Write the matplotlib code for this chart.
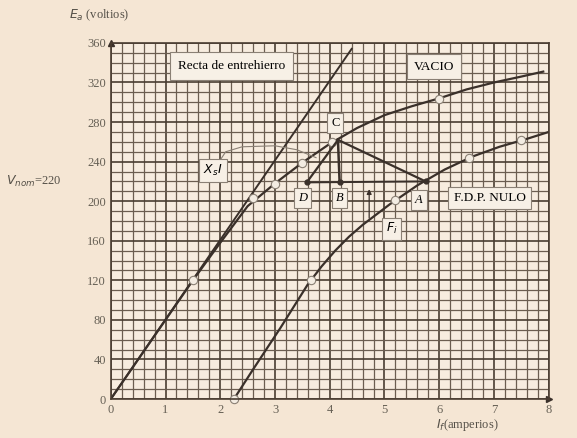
import matplotlib
matplotlib.use("Agg")
import matplotlib.pyplot as plt
import numpy as np

plt.rcParams['font.family'] = ['Liberation Serif', 'DejaVu Serif']

# open circuit curve (VACIO)
occ_i = [0, 1.0, 1.5, 2.0, 2.5, 3.0, 3.5, 4.0, 4.5, 5.0, 5.5, 6.0, 6.5, 7.0, 7.5, 7.9]
occ_e = [0, 80, 120, 158, 195, 218, 239, 258, 274, 287, 296, 304, 313, 320, 326, 331]
occ_marks_i = [1.5, 2.6, 3.0, 3.5, 4.05, 6.0]
occ_marks_e = [120, 203, 217, 239, 260, 303]

# zero power factor curve (F.D.P. NULO)
zpf_i = [2.25, 2.6, 3.1, 3.6, 3.85, 4.1, 4.35, 4.6, 5.1, 5.6, 6.1, 6.6, 7.1, 7.6, 8.0]
zpf_e = [0, 30, 72, 116, 134, 150, 164, 176, 197, 216, 232, 245, 255, 263, 270]
zpf_marks_i = [2.25, 3.65, 5.2, 6.55, 7.5]
zpf_marks_e = [0, 120, 201, 244, 262]

# air gap line
gap_i = [0, 4.4]
gap_e = [0, 354]

# Potier triangle points
pt_C = (4.15, 262)
pt_D = (3.58, 219)
pt_B = (4.18, 219)
pt_A = (5.75, 220)

# leader line of the X_s I label
lead_i = [1.98, 2.1, 2.4, 3.0, 3.4, 3.75]
lead_e = [240, 250, 255, 256, 252, 244]

fig = plt.figure(figsize=(5.77, 4.38), dpi=100)
fig.patch.set_facecolor('#f5e6d4')
ax = fig.add_axes([0.192, 0.089, 0.759, 0.813])
ax.set_facecolor('#f7ecdf')

ax.set_xlim(0, 8)
ax.set_ylim(0, 360)
ax.set_xticks(np.arange(0, 9, 1))
ax.set_yticks(np.arange(0, 361, 40))
ax.set_xticks(np.arange(0, 8.01, 0.2), minor=True)
ax.set_yticks(np.arange(0, 361, 10), minor=True)
ax.grid(which='major', color='#4a3d32', linewidth=1.2)
ax.grid(which='minor', color='#6b5d50', linewidth=0.9)
ax.tick_params(which='both', length=0, colors='#666055', labelsize=9)
for s in ax.spines.values():
    s.set_color('#4a3d32')
    s.set_linewidth(1.2)

lc = '#3a302a'
ax.plot(gap_i, gap_e, color=lc, lw=1.4)
ax.plot(occ_i, occ_e, color=lc, lw=1.6)
ax.plot(zpf_i, zpf_e, color=lc, lw=1.6)
ax.plot(occ_marks_i, occ_marks_e, 'o', ms=6, mfc='#f3ece2', mec='#8a8075', mew=0.8)
ax.plot(zpf_marks_i, zpf_marks_e, 'o', ms=6, mfc='#f3ece2', mec='#8a8075', mew=0.8, clip_on=False)
ax.plot([0], [360], '^', ms=5, color=lc, clip_on=False)
ax.plot([8], [0], '>', ms=5, color=lc, clip_on=False)

# Potier triangle
ax.plot([pt_D[0], pt_C[0]], [pt_D[1], pt_C[1]], color=lc, lw=1.6)
ax.plot([pt_C[0], pt_B[0]], [pt_C[1], pt_B[1]], color=lc, lw=1.8)
ax.plot([pt_C[0], pt_A[0]], [pt_C[1], pt_A[1]], color=lc, lw=1.6)
ax.plot([pt_D[0], pt_A[0]], [pt_D[1], pt_A[1]], color=lc, lw=1.4)
ax.plot([pt_D[0], pt_B[0], pt_A[0]], [pt_D[1], pt_B[1], pt_A[1]], 'o', ms=3.5, color=lc)
ax.annotate('', xy=(4.72, 215), xytext=(4.72, 180),
            arrowprops=dict(arrowstyle='-|>', color=lc, lw=0.9, mutation_scale=7))
ax.plot(lead_i, lead_e, color='#8a8075', lw=0.8)

bfc = '#f7f0e6'
bec = '#8a8075'
box = dict(boxstyle='square,pad=0.3', fc=bfc, ec=bec, lw=0.8)
ax.text(2.2, 337, 'Recta de entrehierro', fontsize=9.5, ha='center', va='center',
        bbox=dict(boxstyle='square,pad=0.6', fc=bfc, ec=bec, lw=0.8))
ax.text(5.9, 336, 'VACIO', fontsize=9.5, ha='center', va='center',
        bbox=dict(boxstyle='square,pad=0.5', fc=bfc, ec=bec, lw=0.8))
ax.text(4.1, 279, 'C', fontsize=9, ha='center', va='center', bbox=box)
ax.text(3.5, 203, 'D', fontsize=9, ha='center', va='center', style='italic', bbox=box)
ax.text(4.18, 203, 'B', fontsize=9, ha='center', va='center', style='italic', bbox=box)
ax.text(5.63, 201, 'A', fontsize=9, ha='center', va='center', style='italic', bbox=box)
ax.text(6.92, 203, 'F.D.P. NULO', fontsize=9.5, ha='center', va='center',
        bbox=dict(boxstyle='square,pad=0.4', fc=bfc, ec=bec, lw=0.8))
ax.text(5.13, 172, '$F_i$', fontsize=9, ha='center', va='center', bbox=box)
ax.text(1.87, 231, '$X_sI$', fontsize=9, ha='center', va='center',
        bbox=dict(boxstyle='square,pad=0.35', fc=bfc, ec=bec, lw=0.8))

fig.text(0.12, 0.965, '$E_a$ (voltios)', fontsize=9, ha='left', va='center', color='#555048')
fig.text(0.01, 0.585, '$V_{nom}$=220', fontsize=9, ha='left', va='center', color='#555048')
fig.text(0.81, 0.03, '$I_f$(amperios)', fontsize=9, ha='center', va='center', color='#555048')

fig.savefig('out.png', dpi=100, facecolor=fig.get_facecolor())
